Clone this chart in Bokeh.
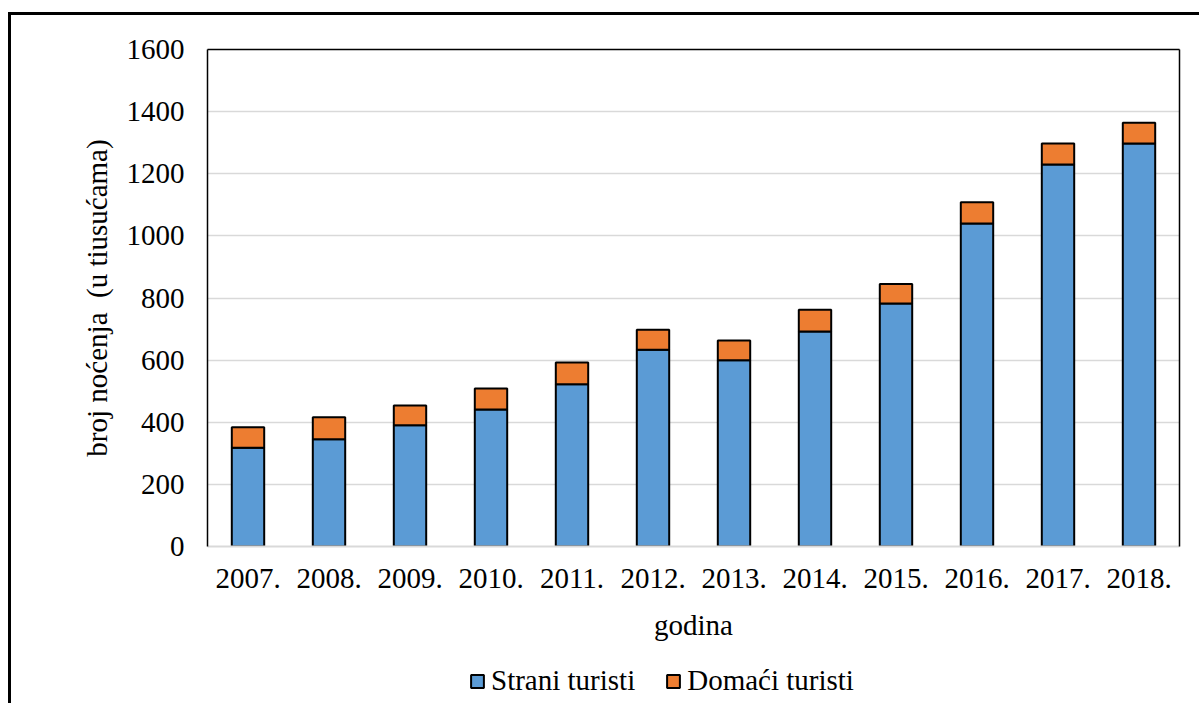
from bokeh.plotting import figure
from bokeh.layouts import column
from bokeh.models import (FactorRange, Range1d, LinearAxis, FixedTicker, Legend,
                          LegendItem, ColumnDataSource)
from bokeh.embed import file_html
from bokeh.resources import INLINE

years = ["2007.", "2008.", "2009.", "2010.", "2011.", "2012.",
         "2013.", "2014.", "2015.", "2016.", "2017.", "2018."]
strani = [318, 345, 390, 441, 522, 633, 600, 692, 782, 1040, 1230, 1297]
domaci = [66, 71, 64, 68, 70, 65, 63, 70, 63, 68, 67, 67]
y_ticks = [0, 200, 400, 600, 800, 1000, 1200, 1400, 1600]
series_labels = ["Strani turisti", "Domaći turisti"]

FONT = "Liberation Serif"
FS = "29px"
BLUE = "#5B9BD5"
ORANGE = "#ED7D31"
GRID = "#d9d9d9"

src = ColumnDataSource(dict(year=years, strani=strani, domaci=domaci))

p = figure(x_range=FactorRange(*years), y_range=Range1d(0, 1600),
           frame_width=972, frame_height=497,
           min_border_left=196, min_border_top=34, min_border_right=20,
           min_border_bottom=0,
           output_backend="svg", toolbar_location=None)

renderers = p.vbar_stack(["strani", "domaci"], x="year", width=0.4, source=src,
                         fill_color=[BLUE, ORANGE], line_color="black", line_width=2)

p.outline_line_color = None
p.xgrid.grid_line_color = None
p.ygrid.grid_line_color = GRID
p.ygrid.grid_line_width = 1.5
p.ygrid.ticker = FixedTicker(ticks=y_ticks)

ya = p.yaxis[0]
ya.ticker = FixedTicker(ticks=y_ticks)
ya.axis_line_color = "black"
ya.axis_line_width = 1.5
ya.major_tick_line_color = None
ya.minor_tick_line_color = None
ya.major_label_standoff = 17
ya.major_label_text_font = FONT
ya.major_label_text_font_size = FS
ya.major_label_text_color = "black"
ya.axis_label = "broj noćenja\u00a0 (u tiusućama)"
ya.axis_label_text_font = FONT
ya.axis_label_text_font_size = FS
ya.axis_label_text_font_style = "normal"
ya.axis_label_text_color = "black"
ya.axis_label_standoff = 11

xa = p.xaxis[0]
xa.axis_line_color = GRID
xa.axis_line_width = 2
xa.major_tick_line_color = None
xa.minor_tick_line_color = None
xa.major_label_standoff = 16
xa.major_label_text_font = FONT
xa.major_label_text_font_size = FS
xa.major_label_text_color = "black"
xa.axis_label = "godina"
xa.axis_label_text_font = FONT
xa.axis_label_text_font_size = FS
xa.axis_label_text_font_style = "normal"
xa.axis_label_text_color = "black"
xa.axis_label_standoff = 18

for loc in ("above", "right"):
    ax = LinearAxis(ticker=FixedTicker(ticks=[]), axis_line_color="black",
                    axis_line_width=1.5, major_tick_line_color=None,
                    minor_tick_line_color=None, major_label_text_font_size="0px")
    p.add_layout(ax, loc)

# legend strip below the chart; its own stacked bars are hidden, only the legend shows
p2 = figure(x_range=FactorRange(*years), y_range=Range1d(5000, 6000),
            frame_width=1188, frame_height=60,
            min_border_left=0, min_border_right=0, min_border_top=0, min_border_bottom=0,
            x_axis_type=None, y_axis_type=None,
            output_backend="svg", toolbar_location=None)
p2.outline_line_color = None
p2.xgrid.grid_line_color = None
p2.ygrid.grid_line_color = None
leg_r = p2.vbar_stack(["strani", "domaci"], x="year", width=0.4, source=src,
                      fill_color=[BLUE, ORANGE], line_color="black", line_width=2)
for r in leg_r:
    r.visible = False

legend = Legend(items=[LegendItem(label=lab, renderers=[r])
                       for lab, r in zip(series_labels, leg_r)],
                orientation="horizontal", location=(458, 6),
                border_line_color=None, background_fill_alpha=0,
                inactive_fill_alpha=0,
                label_text_font=FONT, label_text_font_size=FS, label_text_color="black",
                glyph_width=16, glyph_height=16, label_standoff=6, spacing=30,
                padding=0, margin=0)
p2.add_layout(legend, "center")

layout = column(p, p2, spacing=0,
                styles={"border-top": "3px solid black", "border-left": "3px solid black",
                        "margin-top": "12px", "margin-left": "8px"})

open("out.html", "w").write(file_html(layout, INLINE))
